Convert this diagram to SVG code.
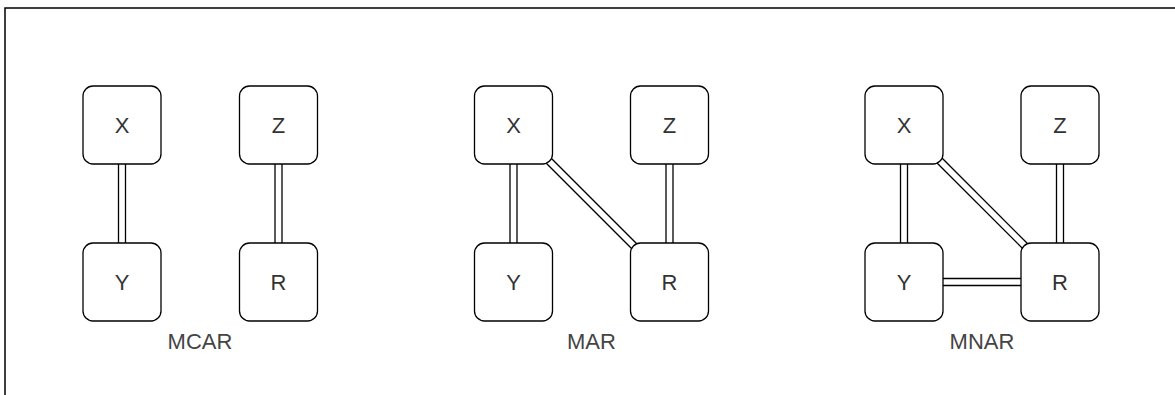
<svg xmlns="http://www.w3.org/2000/svg" width="1175" height="395" viewBox="0 0 1175 395">
<style>
.frame{fill:#fff;stroke:#000;stroke-width:1.5}
.box{fill:#fff;stroke:#000;stroke-width:1.3}
.lbl{font-family:"Liberation Sans",Arial,sans-serif;font-size:22px;fill:#333;text-anchor:middle}
.cap{font-family:"Liberation Sans",Arial,sans-serif;font-size:22px;fill:#444;text-anchor:middle}
.lo{fill:none;stroke:#000;stroke-width:8.3;stroke-linecap:butt}
.li{fill:none;stroke:#fff;stroke-width:5.7;stroke-linecap:butt}
</style>
<rect class="frame" x="5" y="8" width="1200" height="400"/>
<g id="connectors">
  <g id="e-mcar-xy"><path class="lo" d="M122,150 V257"/><path class="li" d="M122,150 V257"/></g>
  <g id="e-mcar-zr"><path class="lo" d="M278.5,150 V257"/><path class="li" d="M278.5,150 V257"/></g>
  <g id="e-mar-xy"><path class="lo" d="M513.5,150 V257"/><path class="li" d="M513.5,150 V257"/></g>
  <g id="e-mar-zr"><path class="lo" d="M669.5,150 V257"/><path class="li" d="M669.5,150 V257"/></g>
  <g id="e-mar-xr"><path class="lo" d="M545,157 L638,250"/><path class="li" d="M545,157 L638,250"/></g>
  <g id="e-mnar-xy"><path class="lo" d="M904,150 V257"/><path class="li" d="M904,150 V257"/></g>
  <g id="e-mnar-zr"><path class="lo" d="M1060,150 V257"/><path class="li" d="M1060,150 V257"/></g>
  <g id="e-mnar-xr"><path class="lo" d="M936,157 L1029,250"/><path class="li" d="M936,157 L1029,250"/></g>
  <g id="e-mnar-yr"><path class="lo" d="M930,282 H1035"/><path class="li" d="M930,282 H1035"/></g>
</g>
<g id="mcar-x"><rect class="box" x="83" y="86" width="78" height="78" rx="10"/><text class="lbl" x="122" y="133">X</text></g>
<g id="mcar-z"><rect class="box" x="239.5" y="86" width="78" height="78" rx="10"/><text class="lbl" x="278.5" y="133">Z</text></g>
<g id="mcar-y"><rect class="box" x="83" y="243" width="78" height="78" rx="10"/><text class="lbl" x="122" y="290">Y</text></g>
<g id="mcar-r"><rect class="box" x="239.5" y="243" width="78" height="78" rx="10"/><text class="lbl" x="278.5" y="290">R</text></g>
<g id="mar-x"><rect class="box" x="474.5" y="86" width="78" height="78" rx="10"/><text class="lbl" x="513.5" y="133">X</text></g>
<g id="mar-z"><rect class="box" x="630.5" y="86" width="78" height="78" rx="10"/><text class="lbl" x="669.5" y="133">Z</text></g>
<g id="mar-y"><rect class="box" x="474.5" y="243" width="78" height="78" rx="10"/><text class="lbl" x="513.5" y="290">Y</text></g>
<g id="mar-r"><rect class="box" x="630.5" y="243" width="78" height="78" rx="10"/><text class="lbl" x="669.5" y="290">R</text></g>
<g id="mnar-x"><rect class="box" x="865" y="86" width="78" height="78" rx="10"/><text class="lbl" x="904" y="133">X</text></g>
<g id="mnar-z"><rect class="box" x="1021" y="86" width="78" height="78" rx="10"/><text class="lbl" x="1060" y="133">Z</text></g>
<g id="mnar-y"><rect class="box" x="865" y="243" width="78" height="78" rx="10"/><text class="lbl" x="904" y="290">Y</text></g>
<g id="mnar-r"><rect class="box" x="1021" y="243" width="78" height="78" rx="10"/><text class="lbl" x="1060" y="290">R</text></g>
<g id="label-mcar"><text class="cap" x="200" y="349">MCAR</text></g>
<g id="label-mar"><text class="cap" x="591.5" y="349">MAR</text></g>
<g id="label-mnar"><text class="cap" x="982" y="349">MNAR</text></g>
</svg>
